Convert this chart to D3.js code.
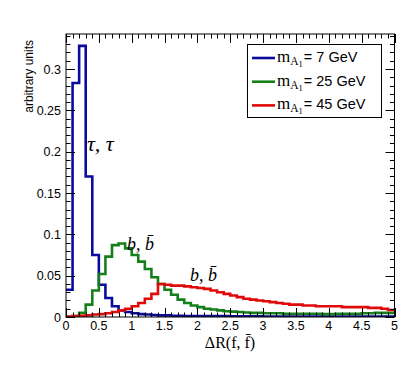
<!DOCTYPE html>
<html><head><meta charset="utf-8">
<script src="https://cdn.jsdelivr.net/npm/d3@7"></script>
<style>body{margin:0;background:#fff}svg{display:block}</style>
</head><body>
<script>
const binEdges = d3.range(0, 51).map(i => i / 10);
const blue7 = [0.033,0.283,0.328,0.170,0.075,0.039,0.023,0.013,0.008,0.006,0.0045,0.0035,0.003,0.0025,0.002,0.002,0.0015,0.0015,0.0012,0.0012,0.001,0.001,0.001,0.001,0.001,0.0008,0.0008,0.0008,0.0008,0.0008,0.0006,0.0006,0.0006,0.0006,0.0006,0.0005,0.0005,0.0005,0.0005,0.0005,0.0005,0.0005,0.0005,0.0005,0.0005,0.0005,0.0005,0.0005,0.0005,0.0005];
const green25 = [0.000,0.001,0.005,0.015,0.032,0.052,0.073,0.087,0.089,0.083,0.075,0.067,0.058,0.048,0.040,0.033,0.027,0.021,0.017,0.014,0.012,0.010,0.009,0.008,0.007,0.0065,0.006,0.0055,0.005,0.005,0.0045,0.0045,0.0045,0.004,0.004,0.004,0.004,0.004,0.004,0.0035,0.0035,0.004,0.004,0.004,0.004,0.0045,0.0045,0.005,0.005,0.005];
const red45 = [0.0005,0.001,0.0015,0.002,0.003,0.0035,0.0045,0.006,0.008,0.010,0.013,0.017,0.022,0.028,0.040,0.039,0.038,0.038,0.037,0.036,0.035,0.034,0.032,0.030,0.028,0.026,0.024,0.022,0.021,0.020,0.019,0.018,0.017,0.016,0.015,0.015,0.014,0.014,0.013,0.013,0.013,0.013,0.012,0.012,0.012,0.012,0.011,0.011,0.010,0.0085];
const xTicks = [0,0.5,1,1.5,2,2.5,3,3.5,4,4.5,5];
const xTickLabels = ["0","0.5","1","1.5","2","2.5","3","3.5","4","4.5","5"];
const yTicks = [0,0.05,0.1,0.15,0.2,0.25,0.3];
const yTickLabels = ["0","0.05","0.1","0.15","0.2","0.25","0.3"];
const legendMasses = ["7","25","45"];

const W = 408, H = 365;
const L = 66, R = 394.5, T = 34, B = 317;
const x = d3.scaleLinear().domain([0, 5]).range([L, R]);
const y = d3.scaleLinear().domain([0, 0.3]).range([B, 69]);
const yMax = y.invert(T);
y.domain([0, yMax]).range([B, T]);

const svg = d3.select("body").append("svg").attr("width", W).attr("height", H);

const series = [
  {vals: blue7, color: "#0a0a9c"},
  {vals: green25, color: "#15801a"},
  {vals: red45, color: "#e00a0a"}
];

const sans = "'Liberation Sans', Arial, sans-serif";
const serif = "'Liberation Serif', 'Times New Roman', serif";

// histograms
svg.append("clipPath").attr("id","c").append("rect")
  .attr("x", L).attr("y", T).attr("width", R - L).attr("height", B - T);
const line = d3.line().x(d => x(d[0])).y(d => y(d[1])).curve(d3.curveStepAfter);
series.forEach(s => {
  const pts = s.vals.map((v, i) => [binEdges[i], v]);
  pts.push([binEdges[50], s.vals[49]]);
  svg.append("path").attr("d", line(pts)).attr("fill", "none")
    .attr("stroke", s.color).attr("stroke-width", 2.6)
    .attr("clip-path", "url(#c)");
});

// frame
svg.append("rect").attr("x", L).attr("y", T).attr("width", R - L).attr("height", B - T)
  .attr("fill", "none").attr("stroke", "#000").attr("stroke-width", 1);

// ticks
const tg = svg.append("g").attr("stroke", "#000").attr("stroke-width", 1);
const xMinor = d3.range(0, 51).map(i => i / 10);
xMinor.forEach((v, i) => {
  const len = (i % 5 === 0) ? 9 : 4.5;
  const px = Math.round(x(v)) + 0.5;
  tg.append("line").attr("x1", px).attr("x2", px).attr("y1", B).attr("y2", B - len);
  tg.append("line").attr("x1", px).attr("x2", px).attr("y1", T).attr("y2", T + len);
});
const yMinor = d3.range(0, 35).map(i => i / 100);
yMinor.forEach((v, i) => {
  if (v > yMax) return;
  const len = (i % 5 === 0) ? 9 : 4.5;
  const py = Math.round(y(v)) + 0.5;
  tg.append("line").attr("y1", py).attr("y2", py).attr("x1", L).attr("x2", L + len);
  tg.append("line").attr("y1", py).attr("y2", py).attr("x1", R).attr("x2", R - len);
});

// tick labels
xTicks.forEach((v, i) => {
  svg.append("text").attr("x", x(v)).attr("y", 330).attr("text-anchor", "middle")
    .attr("font-family", sans).attr("font-size", 12.5).text(xTickLabels[i]);
});
yTicks.forEach((v, i) => {
  svg.append("text").attr("x", 61).attr("y", y(v) + 4.5).attr("text-anchor", "end")
    .attr("font-family", sans).attr("font-size", 12.5).text(yTickLabels[i]);
});

// axis titles
svg.append("text").attr("transform", "translate(33,40) rotate(-90)")
  .attr("text-anchor", "end").attr("font-family", sans).attr("font-size", 12)
  .text("arbitrary units");
svg.append("text").attr("x", 230).attr("y", 348).attr("text-anchor", "middle")
  .attr("font-family", serif).attr("font-size", 16).text("\u0394R(f, f\u0304)");

// annotations
svg.append("text").attr("x", 87).attr("y", 151).attr("font-family", serif)
  .attr("font-style", "italic").attr("font-size", 22).text("\u03C4, \u03C4");
svg.append("text").attr("x", 127).attr("y", 250).attr("font-family", serif)
  .attr("font-style", "italic").attr("font-size", 18).text("b, b\u0304");
svg.append("text").attr("x", 190).attr("y", 281).attr("font-family", serif)
  .attr("font-style", "italic").attr("font-size", 18).text("b, b\u0304");

// legend
const lg = svg.append("g");
lg.append("rect").attr("x", 247.5).attr("y", 44.5).attr("width", 134).attr("height", 73)
  .attr("fill", "#fff").attr("stroke", "#000").attr("stroke-width", 1);
series.forEach((s, i) => {
  const cy = 58 + i * 23.7;
  lg.append("line").attr("x1", 252).attr("x2", 275).attr("y1", cy).attr("y2", cy)
    .attr("stroke", s.color).attr("stroke-width", 2.6);
  const t = lg.append("text").attr("x", 277).attr("y", cy + 4);
  t.append("tspan").attr("font-family", serif).attr("font-size", 17).text("m");
  t.append("tspan").attr("font-family", serif).attr("font-size", 11.5).attr("dy", 3).text("A");
  t.append("tspan").attr("font-family", serif).attr("font-size", 8.5).attr("dy", 2).text("1");
  t.append("tspan").attr("font-family", sans).attr("font-size", 14.5).attr("dy", -5).attr("dx", 1)
    .text("= " + legendMasses[i] + " GeV");
});
</script>
</body></html>
